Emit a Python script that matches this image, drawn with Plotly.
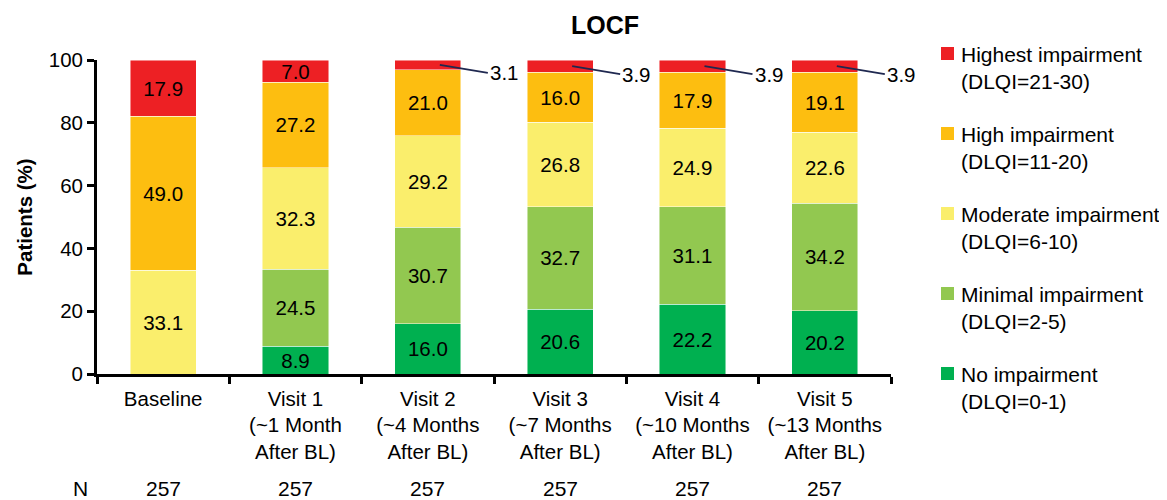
import plotly.graph_objects as go

categories = ["Baseline", "Visit 1<br>(~1 Month<br>After BL)", "Visit 2<br>(~4 Months<br>After BL)",
              "Visit 3<br>(~7 Months<br>After BL)", "Visit 4<br>(~10 Months<br>After BL)",
              "Visit 5<br>(~13 Months<br>After BL)"]
n_values = [257, 257, 257, 257, 257, 257]

no_imp = [0, 8.9, 16.0, 20.6, 22.2, 20.2]
minimal_imp = [0, 24.5, 30.7, 32.7, 31.1, 34.2]
moderate_imp = [33.1, 32.3, 29.2, 26.8, 24.9, 22.6]
high_imp = [49.0, 27.2, 21.0, 16.0, 17.9, 19.1]
highest_imp = [17.9, 7.0, 3.1, 3.9, 3.9, 3.9]

series_names = ["No impairment", "Minimal impairment", "Moderate impairment",
                "High impairment", "Highest impairment"]
series_ranges = ["(DLQI=0-1)", "(DLQI=2-5)", "(DLQI=6-10)", "(DLQI=11-20)", "(DLQI=21-30)"]
series_values = [no_imp, minimal_imp, moderate_imp, high_imp, highest_imp]
series_colors = ["rgb(0,176,80)", "rgb(146,200,80)", "rgb(250,238,108)",
                 "rgb(253,190,16)", "rgb(237,32,36)"]

FONT = "Liberation Sans, Arial, sans-serif"
W, H = 1159, 492
ML, MR, MT, MB = 89, 276, 52, 126
PW, PH = W - ML - MR, H - MT - MB

fig = go.Figure()
SMALL = 5.0
for name, vals, color in zip(series_names, series_values, series_colors):
    texts = [("%.1f" % v) if v >= SMALL else "" for v in vals]
    fig.add_trace(go.Bar(
        x=categories, y=vals, name=name,
        marker=dict(color=color, line=dict(color="rgba(255,255,255,0.6)", width=0.8)),
        text=texts, textposition="inside", insidetextanchor="middle", textangle=0,
        textfont=dict(family=FONT, size=20.5, color="black"),
        constraintext="none", showlegend=False, hoverinfo="skip",
    ))

# Leader-line labels for small segments
for ci, cat in enumerate(categories):
    cum = 0.0
    for vals in series_values:
        v = vals[ci]
        if 0 < v < SMALL:
            fig.add_annotation(x=cat, y=cum + v * 0.5, xref="x", yref="y", xshift=12,
                               text="%.1f" % v, showarrow=True, arrowhead=0, arrowwidth=2,
                               arrowcolor="#1f2850", ax=48, ay=8, xanchor="left",
                               font=dict(family=FONT, size=20.5, color="black"))
        cum += v

# N row
fig.add_annotation(x=(80 - 97) / PW, y=(374 - 488) / PH, xref="paper", yref="paper", text="N",
                   showarrow=False, xanchor="center", yanchor="middle",
                   font=dict(family=FONT, size=21, color="black"))
for cat, n in zip(categories, n_values):
    fig.add_annotation(x=cat, y=(374 - 488) / PH, xref="x", yref="paper", text=str(n),
                       showarrow=False, yanchor="middle",
                       font=dict(family=FONT, size=21, color="black"))

# Manual legend (top entry = highest impairment)
order = list(range(len(series_names)))[::-1]
for k, si in enumerate(order):
    top_px = 47 + 80 * k
    fig.add_shape(type="rect", xref="paper", yref="paper",
                  x0=(941 - 97) / PW, x1=(954 - 97) / PW,
                  y0=(374 - top_px - 13) / PH, y1=(374 - top_px) / PH,
                  fillcolor=series_colors[si], line=dict(width=0))
    fig.add_annotation(x=(959 - 97) / PW, y=(374 - top_px + 6) / PH, xref="paper", yref="paper",
                       text=series_names[si] + "<br>" + series_ranges[si], showarrow=False,
                       xanchor="left", yanchor="top", align="left",
                       font=dict(family=FONT, size=21, color="black"))

fig.update_layout(
    width=W, height=H,
    margin=dict(l=ML, r=MR, t=MT, b=MB),
    paper_bgcolor="white", plot_bgcolor="white",
    barmode="stack", bargap=0.5,
    font=dict(family=FONT, size=20, color="black"),
    title=dict(text="<b>LOCF</b>", x=597 / W, xref="container", xanchor="center",
               y=1 - 17.5 / H, yanchor="middle",
               font=dict(family=FONT, size=25, color="black")),
    showlegend=False,
    xaxis=dict(range=[-0.5, len(categories) - 0.5], autorange=False,
               showline=True, linecolor="black", linewidth=2.8, ticks="outside", tickson="boundaries",
               ticklen=7, tickwidth=2.8, tickcolor="black", showgrid=False, ticklabelstandoff=4,
               tickfont=dict(family=FONT, size=20.5, color="black")),
    yaxis=dict(range=[0, 100], autorange=False, dtick=20, showline=True, linecolor="black", linewidth=2.8,
               ticks="outside", ticklen=7, tickwidth=2.8, tickcolor="black", showgrid=False,
               zeroline=False, tickfont=dict(family=FONT, size=20.5, color="black"),
               title=dict(text="<b>Patients (%)</b>", font=dict(family=FONT, size=20.5, color="black"),
                          standoff=11)),
)

fig.write_html("out.html")
